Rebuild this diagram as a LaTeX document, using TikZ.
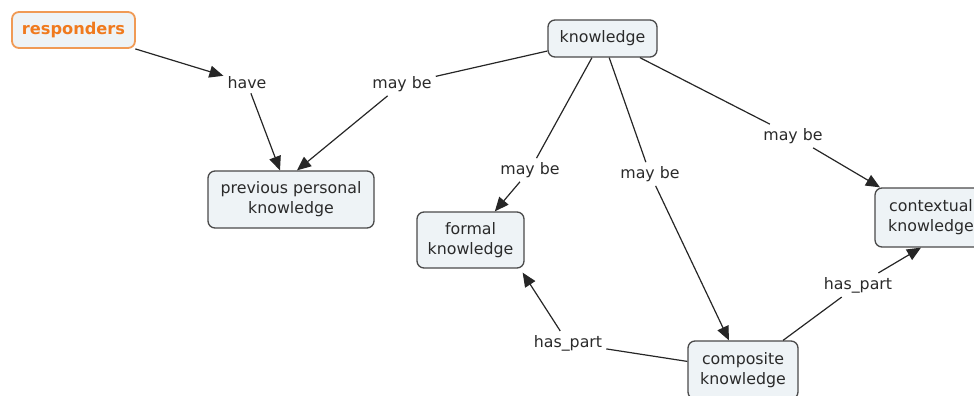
\documentclass[tikz,border=0pt]{standalone}
\usepackage{fontspec}
\setmainfont{DejaVu Sans}
\usetikzlibrary{arrows.meta}
\definecolor{boxfill}{HTML}{EEF3F6}
\definecolor{boxline}{HTML}{4A4A4A}
\definecolor{orng}{HTML}{F07A1E}
\definecolor{orngline}{HTML}{F09A55}
\definecolor{txt}{HTML}{2A2A2A}
\tikzset{
  concept/.style={draw=boxline, fill=boxfill, line width=1.3pt, rounded corners=7pt,
    align=center, font=\fontsize{15.8}{20}\selectfont, text=txt, inner sep=0pt},
  lab/.style={font=\fontsize{15.8}{20}\selectfont, text=txt, inner sep=4pt},
  conn/.style={draw=black!85, line width=1.2pt},
  arr/.style={conn, -{Triangle[length=14pt,width=12pt]}}
}
\begin{document}
\begin{tikzpicture}[x=1pt,y=-1pt]
\useasboundingbox (0,0) rectangle (974,396);
\node[concept, draw=orngline, line width=1.8pt, text=orng, font=\fontsize{16.2}{20}\selectfont\bfseries,
  minimum width=123pt, minimum height=36pt] (resp) at (73.5,30) {responders};
\node[concept, minimum width=109pt, minimum height=37pt] (know) at (602.5,38.5) {knowledge};
\node[concept, minimum width=166pt, minimum height=57pt] (prev) at (291,199.5) {previous personal\\knowledge};
\node[concept, minimum width=107pt, minimum height=56pt] (formal) at (470.5,240) {formal\\knowledge};
\node[concept, minimum width=112pt, minimum height=59pt] (ctx) at (931,217.5) {contextual\\knowledge};
\node[concept, minimum width=110pt, minimum height=58pt] (comp) at (743,370) {composite\\knowledge};

\node[lab] (have) at (247,83) {have};
\node[lab] (mb1) at (402,84) {may be};
\node[lab] (mb2) at (530,170) {may be};
\node[lab] (mb3) at (650,174) {may be};
\node[lab] (mb4) at (793,136) {may be};
\node[lab] (hp1) at (568,343) {has\_part};
\node[lab] (hp2) at (858,285) {has\_part};

\draw[arr] (resp) -- (have);
\draw[arr] (have) -- (prev);
\draw[conn] (know) -- (mb1);
\draw[arr] (mb1) -- ([xshift=6pt]prev.north);
\draw[conn] (know) -- (mb2);
\draw[arr] (mb2) -- (formal);
\draw[conn] (know) -- (mb3);
\draw[arr] (mb3) -- (comp);
\draw[conn] (know) -- (mb4);
\draw[arr] (mb4) -- (ctx);
\draw[conn] (comp) -- (hp1);
\draw[arr] (hp1) -- ([xshift=-2pt,yshift=-4pt]formal.south east);
\draw[conn] (comp) -- (hp2);
\draw[arr] (hp2) -- ([xshift=-10pt]ctx.south);
\end{tikzpicture}
\end{document}
